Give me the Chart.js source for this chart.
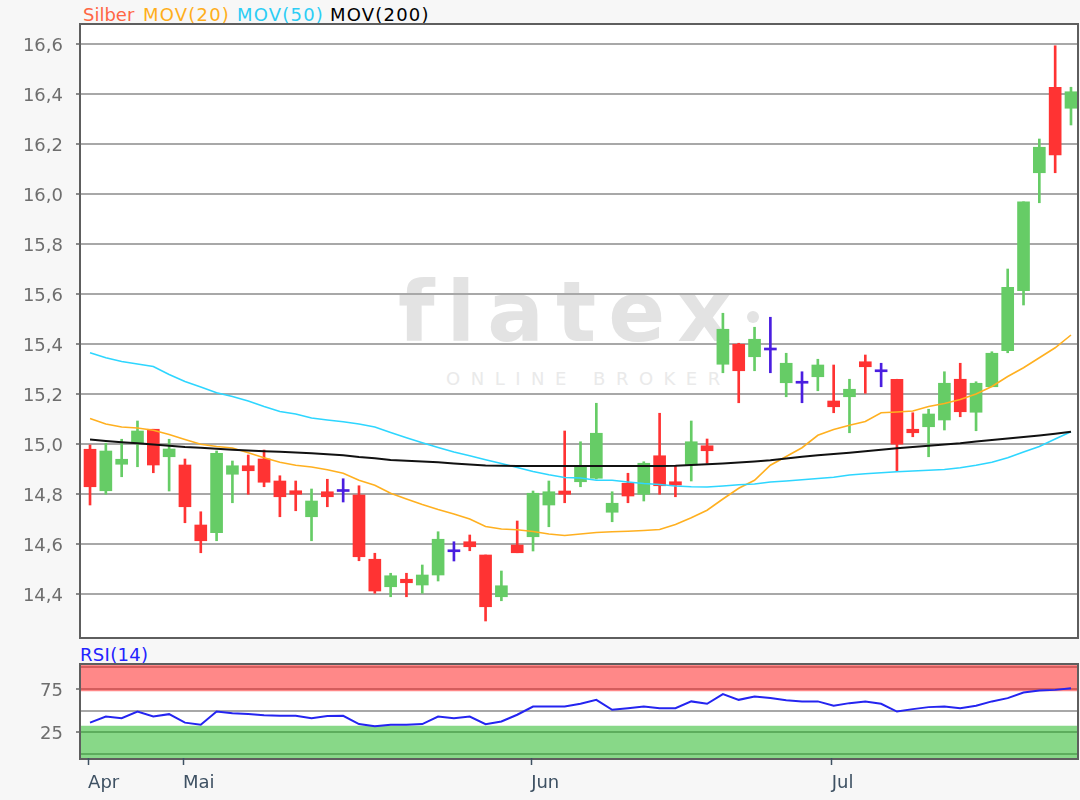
<!DOCTYPE html>
<html>
<head>
<meta charset="utf-8">
<script src="https://cdn.jsdelivr.net/npm/chart.js@4.4.0/dist/chart.umd.min.js"></script>
<style>
  html, body { margin:0; padding:0; width:1080px; height:800px; background:#f7f7f7; overflow:hidden; font-family:"DejaVu Sans", sans-serif; }
  .frame { position:absolute; box-sizing:border-box; border:2px solid #5e5e5e; background:#ffffff; }
  #frameMain { left:79px; top:23px; width:1000px; height:616px; }
  #frameRsi { left:79px; top:663px; width:1000px; height:97px; }
  .wm { position:absolute; color:#e3e3e3; white-space:nowrap; }
  #wmLogo { left:398px; top:270px; font-size:84px; line-height:84px; font-weight:bold; letter-spacing:12px; }
  #wmDot { position:absolute; left:747px; top:311px; width:12px; height:12px; border-radius:50%; background:#e3e3e3; }
  #wmSub { left:446px; top:370px; font-size:18px; line-height:18px; letter-spacing:10.5px; color:#eaeaea; }
  canvas { position:absolute; left:0; }
  #mainChart { top:0; }
  #rsiChart { top:641px; }
  .hdr { position:absolute; font-size:18px; line-height:22px; white-space:nowrap; top:4px; letter-spacing:1.2px; }
  #legendRsi { left:80px; top:644px; color:#2323ff; letter-spacing:0.3px; }
</style>
</head>
<body>
<div class="frame" id="frameMain"></div>
<div class="frame" id="frameRsi"></div>
<div class="wm" id="wmLogo">flatex</div>
<div id="wmDot"></div>
<div class="wm" id="wmSub">ONLINE BROKER</div>
<div class="hdr" style="left:83px;color:#ff6644;letter-spacing:0">Silber</div>
<div class="hdr" style="left:143px;color:#ffae1a">MOV(20)</div>
<div class="hdr" style="left:237px;color:#2ccdf5">MOV(50)</div>
<div class="hdr" style="left:330px;color:#000000">MOV(200)</div>
<div class="hdr" id="legendRsi">RSI(14)</div>
<canvas id="mainChart" width="1080" height="662"></canvas>
<canvas id="rsiChart" width="1080" height="159"></canvas>
<script>
// ---------- data ----------
const monthLabels = ['Apr', 'Mai', 'Jun', 'Jul'];
const monthTickIndex = [0, 6, 28, 47];
const yTickValues = [14.4, 14.6, 14.8, 15.0, 15.2, 15.4, 15.6, 15.8, 16.0, 16.2, 16.4, 16.6];
const rsiTickValues = [0, 25, 50, 75, 100];
const rsiLabelled = [25, 75];

const openP = [14.979, 14.813, 14.919, 15.003, 15.059, 14.949, 14.916, 14.676, 14.645, 14.879,
  14.913, 14.940, 14.852, 14.813, 14.709, 14.809, 14.810, 14.796, 14.539, 14.429,
  14.459, 14.436, 14.476, 14.569, 14.609, 14.556, 14.389, 14.596, 14.629, 14.756,
  14.812, 14.849, 14.863, 14.727, 14.843, 14.799, 14.953, 14.849, 14.916, 14.993,
  15.319, 15.399, 15.349, 15.376, 15.245, 15.243, 15.269, 15.172, 15.189, 15.329,
  15.289, 15.259, 15.059, 15.069, 15.096, 15.259, 15.127, 15.229, 15.373, 15.613,
  16.085, 16.427, 16.343];
const highP = [14.996, 15.003, 15.019, 15.092, 15.059, 15.019, 14.940, 14.729, 14.972, 14.932,
  14.956, 14.976, 14.873, 14.852, 14.820, 14.859, 14.861, 14.833, 14.563, 14.483,
  14.483, 14.516, 14.649, 14.609, 14.636, 14.556, 14.492, 14.692, 14.812, 14.852,
  15.052, 15.009, 15.163, 14.809, 14.883, 14.929, 15.123, 14.912, 15.092, 15.020,
  15.523, 15.403, 15.467, 15.507, 15.363, 15.289, 15.339, 15.316, 15.259, 15.356,
  15.323, 15.259, 15.125, 15.139, 15.289, 15.323, 15.249, 15.369, 15.700, 15.969,
  16.220, 16.593, 16.427];
const lowP = [14.756, 14.799, 14.869, 14.909, 14.885, 14.812, 14.685, 14.565, 14.613, 14.765,
  14.799, 14.829, 14.709, 14.733, 14.613, 14.749, 14.768, 14.533, 14.403, 14.389,
  14.389, 14.403, 14.452, 14.532, 14.573, 14.292, 14.373, 14.565, 14.572, 14.669,
  14.765, 14.829, 14.860, 14.689, 14.765, 14.772, 14.799, 14.789, 14.852, 14.923,
  15.285, 15.165, 15.293, 15.285, 15.189, 15.165, 15.213, 15.125, 15.045, 15.203,
  15.229, 14.892, 15.029, 14.949, 15.056, 15.109, 15.053, 15.229, 15.365, 15.556,
  15.965, 16.085, 16.276];
const closeP = [14.829, 14.972, 14.939, 15.052, 14.916, 14.980, 14.749, 14.613, 14.963, 14.913,
  14.893, 14.847, 14.789, 14.799, 14.772, 14.789, 14.810, 14.549, 14.412, 14.473,
  14.445, 14.476, 14.619, 14.569, 14.589, 14.349, 14.433, 14.565, 14.803, 14.809,
  14.799, 14.909, 15.043, 14.763, 14.792, 14.923, 14.833, 14.836, 15.009, 14.973,
  15.459, 15.293, 15.419, 15.376, 15.323, 15.243, 15.316, 15.149, 15.219, 15.309,
  15.289, 14.999, 15.045, 15.120, 15.243, 15.129, 15.243, 15.363, 15.627, 15.969,
  16.187, 16.156, 16.409];

const mov20 = [15.102, 15.080, 15.068, 15.064, 15.055, 15.038, 15.018, 14.999, 14.990, 14.984,
  14.965, 14.945, 14.927, 14.915, 14.908, 14.897, 14.883, 14.855, 14.835, 14.803,
  14.780, 14.758, 14.738, 14.720, 14.700, 14.670, 14.660, 14.657, 14.650, 14.640,
  14.634, 14.640, 14.646, 14.649, 14.651, 14.654, 14.658, 14.678, 14.705, 14.735,
  14.780, 14.823, 14.855, 14.915, 14.950, 14.985, 15.035, 15.058, 15.075, 15.090,
  15.125, 15.128, 15.132, 15.150, 15.162, 15.178, 15.200, 15.230, 15.270, 15.305,
  15.345, 15.385, 15.436];
const mov50 = [15.365, 15.345, 15.330, 15.320, 15.310, 15.278, 15.250, 15.228, 15.205, 15.190,
  15.172, 15.150, 15.130, 15.120, 15.104, 15.096, 15.089, 15.080, 15.068, 15.046,
  15.025, 15.005, 14.986, 14.968, 14.953, 14.937, 14.922, 14.906, 14.890, 14.877,
  14.866, 14.864, 14.855, 14.855, 14.848, 14.842, 14.838, 14.832, 14.829, 14.828,
  14.832, 14.837, 14.840, 14.848, 14.852, 14.857, 14.862, 14.867, 14.876, 14.881,
  14.885, 14.889, 14.892, 14.895, 14.898, 14.905, 14.915, 14.927, 14.945, 14.968,
  14.990, 15.020, 15.049];
const mov200 = [15.018, 15.012, 15.007, 15.003, 14.998, 14.993, 14.988, 14.985, 14.981, 14.977,
  14.974, 14.971, 14.969, 14.966, 14.963, 14.959, 14.955, 14.948, 14.943, 14.936,
  14.933, 14.930, 14.927, 14.922, 14.918, 14.914, 14.913, 14.912, 14.912, 14.912,
  14.912, 14.912, 14.912, 14.912, 14.912, 14.912, 14.912, 14.913, 14.916, 14.919,
  14.922, 14.926, 14.930, 14.935, 14.942, 14.949, 14.955, 14.960, 14.965, 14.971,
  14.977, 14.983, 14.988, 14.993, 14.998, 15.003, 15.010, 15.016, 15.022, 15.028,
  15.034, 15.041, 15.049];
const rsi14 = [36.2, 43.2, 41.3, 49.0, 43.2, 46.0, 36.2, 33.7, 49.0, 47.1,
  46.1, 44.8, 44.1, 44.1, 41.3, 43.8, 44.1, 34.5, 31.9, 33.7,
  33.9, 34.5, 43.2, 41.3, 43.2, 34.5, 37.6, 45.3, 54.8, 54.8,
  54.8, 57.9, 62.5, 51.0, 52.9, 54.8, 52.9, 52.9, 60.7, 57.9,
  69.1, 62.5, 66.4, 64.5, 61.9, 60.7, 60.7, 55.6, 58.7, 60.7,
  57.9, 49.0, 51.8, 54.1, 54.8, 52.9, 55.6, 60.7, 64.5, 71.0,
  73.3, 74.0, 76.0];
const rsiOverbought = 72.3;
const rsiOversold = 32.6;

// ---------- chart ----------
Chart.defaults.font.family = '"DejaVu Sans", sans-serif';
Chart.defaults.font.size = 18;

const UP = '#66cc66', DOWN = '#ff3333', DOJI = '#4a1ee0';
const X_MIN = -0.57, X_MAX = 62.38;
const idx = closeP.map((_, i) => i);
const candleColor = idx.map(i => closeP[i] > openP[i] ? UP : (closeP[i] < openP[i] ? DOWN : DOJI));
const pts = arr => idx.map(i => ({ x: i, y: arr[i] }));

new Chart(document.getElementById('mainChart'), {
  type: 'bar',
  data: {
    datasets: [
      { type: 'line', label: 'MOV(200)', data: pts(mov200), borderColor: '#111111', borderWidth: 2, pointRadius: 0, tension: 0, order: 0 },
      { type: 'line', label: 'MOV(50)', data: pts(mov50), borderColor: '#2ed6ff', borderWidth: 1.6, pointRadius: 0, tension: 0, order: 0 },
      { type: 'line', label: 'MOV(20)', data: pts(mov20), borderColor: '#ffb020', borderWidth: 1.6, pointRadius: 0, tension: 0, order: 0 },
      { type: 'bar', label: 'Silber', data: idx.map(i => ({ x: i, y: [openP[i], closeP[i]] })),
        backgroundColor: candleColor, barThickness: 12, minBarLength: 2, grouped: false, order: 5, clip: 0 },
      { type: 'bar', label: 'Silber Docht', data: idx.map(i => ({ x: i, y: [lowP[i], highP[i]] })),
        backgroundColor: candleColor, barThickness: 2, grouped: false, order: 6, clip: 0 }
    ]
  },
  options: {
    responsive: false, animation: false,
    layout: { padding: { left: 0, right: 3, top: 25, bottom: 25 } },
    plugins: { legend: { display: false }, tooltip: { enabled: false } },
    scales: {
      x: { type: 'linear', min: X_MIN, max: X_MAX, offset: false, display: false },
      y: {
        type: 'linear', min: 14.228, max: 16.676,
        afterFit: s => { s.width = 81; },
        afterBuildTicks: s => { s.ticks = yTickValues.map(v => ({ value: v })); },
        ticks: { color: '#6e6e6e', padding: 13, labelOffset: 2, autoSkip: false,
                 callback: v => Number(v).toFixed(1).replace('.', ',') },
        grid: { color: '#a8a8a8', lineWidth: 2, tickLength: 5, tickColor: '#666666', tickWidth: 1.5 },
        border: { display: false }
      }
    }
  }
});

new Chart(document.getElementById('rsiChart'), {
  type: 'line',
  data: {
    datasets: [
      { label: 'RSI(14)', data: pts(rsi14), borderColor: '#2424f0', borderWidth: 2, pointRadius: 0, tension: 0, fill: false, order: 0 },
      { label: 'overbought', data: [{ x: X_MIN, y: rsiOverbought }, { x: X_MAX, y: rsiOverbought }],
        borderWidth: 0, pointRadius: 0, fill: 'end', backgroundColor: 'rgba(255,17,17,0.5)', order: 1 },
      { label: 'oversold', data: [{ x: X_MIN, y: rsiOversold }, { x: X_MAX, y: rsiOversold }],
        borderWidth: 0, pointRadius: 0, fill: 'start', backgroundColor: 'rgba(17,177,17,0.5)', order: 1 }
    ]
  },
  options: {
    responsive: false, animation: false,
    layout: { padding: { left: 0, right: 3, top: 24, bottom: 0 } },
    plugins: { legend: { display: false }, tooltip: { enabled: false } },
    scales: {
      x: {
        type: 'linear', min: X_MIN, max: X_MAX, offset: false,
        afterFit: s => { s.height = 42; },
        afterBuildTicks: s => { s.ticks = monthTickIndex.map(v => ({ value: v - 0.12 })); },
        ticks: { align: 'start', color: '#3e5163', padding: 8, autoSkip: false, maxRotation: 0,
                 callback: (v, i) => monthLabels[i] },
        grid: { drawOnChartArea: false, drawTicks: true, tickLength: 7, tickColor: '#3e5163', tickWidth: 1.5 },
        border: { display: false }
      },
      y: {
        type: 'linear', min: -4.6, max: 102.7,
        afterFit: s => { s.width = 81; },
        afterBuildTicks: s => { s.ticks = rsiTickValues.map(v => ({ value: v })); },
        ticks: { color: '#6e6e6e', padding: 13, labelOffset: 2, autoSkip: false,
                 callback: v => rsiLabelled.includes(v) ? String(v) : '' },
        grid: { color: '#a8a8a8', lineWidth: 2, tickLength: 5, tickWidth: 1.5,
                tickColor: c => (c.tick && rsiLabelled.includes(c.tick.value)) ? '#666666' : 'rgba(0,0,0,0)' },
        border: { display: false }
      }
    }
  }
});
</script>
</body>
</html>
